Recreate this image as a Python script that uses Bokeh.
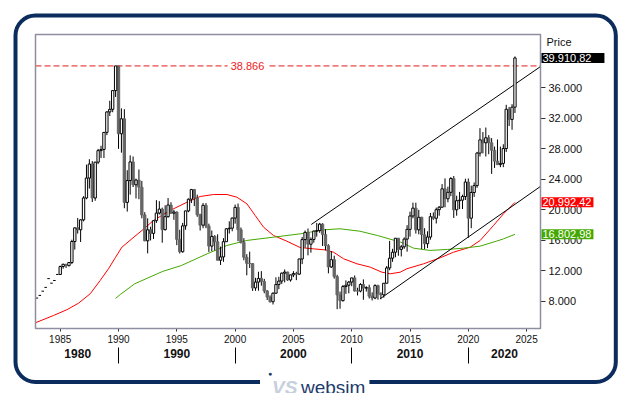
from bokeh.plotting import figure
from bokeh.models import Range1d, LinearAxis, FixedTicker, Label, BoxAnnotation, ColumnDataSource
from bokeh.embed import file_html
from bokeh.resources import INLINE

FONT = "Liberation Sans"

# ---------------- data (Nikkei 225, quarterly) ----------------
early_x = [1983.0, 1983.25, 1983.5, 1983.75, 1984.0, 1984.25, 1984.5, 1984.75]
early_close = [8450, 8800, 9350, 9850, 11000, 10400, 10750, 11540]

first_year = 1985
opens = [11543, 12580, 12880, 12700,  13113, 15860, 17650, 17400,  18701, 21566, 24176, 26011,
         21564, 26260, 27769, 27923,  30159, 32839, 33183, 35637,  38866, 29980, 31940, 20984,
         23849, 26292, 23290, 23916,  22984, 19346, 15951, 17399,  16925, 18591, 19590, 20106,
         17417, 19112, 20643, 19564,  19723, 16140, 14517, 17913,  19868, 21407, 22667, 21556,
         19361, 18003, 20605, 17888,  15259, 16527, 15830, 13406,  13842, 15837, 17530, 17605,
         18934, 20337, 17411, 15747,  13786, 12999, 12969, 9775,   10543, 11025, 10622, 9383,
         8579, 7973, 9083, 10219,     10677, 11715, 11859, 10824,  11489, 11669, 11584, 13574,
         16111, 17060, 15505, 16128,  17226, 17288, 18138, 16786,  15308, 12526, 13481, 11260,
         8860, 8110, 9958, 10133,     10546, 11090, 9383, 9369,    10229, 9755, 9816, 8700,
         8455, 10084, 9007, 8870,     10395, 12398, 13677, 14456,  16291, 14828, 15162, 16174,
         17451, 19207, 20236, 17388,  19034, 16759, 15576, 16450,  19114, 18909, 20033, 20356,
         22765, 21454, 22305, 24120,  20015, 21206, 21276, 21756,  23657, 18917, 22288, 23185,
         27444, 29179, 28792, 29453,  28792, 27821, 26393, 25937,  26095, 28041, 33189, 31858,
         33464]
highs = [12700, 12950, 12900, 13130,  16100, 17700, 18936, 18800,  21800, 25929, 26646, 26400,
         26300, 28000, 28400, 30200,  32900, 34300, 35700, 38866,  38866, 33300, 33200, 25200,
         27146, 27000, 24100, 25300,  23800, 19700, 18900, 17800,  18600, 21281, 21148, 20300,
         20600, 21552, 21000, 20000,  19800, 17400, 18300, 19900,  21500, 22750, 22750, 22000,
         19500, 20900, 20900, 18200,  17300, 16700, 16800, 15200,  16300, 17600, 18500, 19000,
         20700, 20833, 17700, 16300,  14200, 14529, 13000, 11100,  11900, 11979, 10960, 9500,
         8800, 9200, 11161, 11238,    11800, 12195, 11900, 11500,  11975, 11900, 13600, 16445,
         17300, 17563, 16400, 17300,  18300, 18297, 18262, 17489,  15500, 14601, 14000, 11500,
         9300, 10170, 10767, 10700,   11100, 11408, 9800, 10400,   10891, 10000, 10200, 9200,
         10255, 10200, 9200, 10400,   12650, 15942, 14900, 16320,  16320, 15400, 16400, 18000,
         19778, 20953, 20946, 20012,  19100, 17600, 17200, 19600,  19668, 20300, 20500, 23382,
         24129, 23050, 24286, 24448,  21860, 22362, 22000, 24091,  24116, 23178, 23600, 27602,
         30714, 30200, 30795, 29800,  29400, 28300, 29222, 28300,  28600, 33772, 33488, 33853,
         40110]
lows = [11500, 12300, 12400, 12600,  12900, 14800, 16900, 15800,  18500, 21400, 22800, 21036,
        21200, 26000, 26800, 26800,  29800, 32300, 32800, 34800,  28000, 27500, 20221, 19781,
        22000, 23000, 21500, 21400,  18900, 15900, 14309, 16000,  16200, 18300, 19400, 15700,
        17300, 19000, 19500, 18700,  15380, 14295, 14400, 17400,  19700, 20900, 20500, 19100,
        17300, 17600, 17600, 14500,  14600, 14700, 13400, 12787,  13200, 15800, 16900, 17200,
        18200, 15900, 15600, 13400,  11433, 12400, 9382, 9400,    9420, 10074, 9075, 8197,
        7862, 7607, 9000, 9614,      10300, 10500, 10700, 10600,  11200, 10800, 11500, 12900,
        15059, 14045, 14400, 15700,  16500, 17000, 15273, 14700,  11691, 12400, 11000, 6994,
        7054, 8000, 9000, 9076,      10000, 9300, 8796, 9200,     8227, 9300, 8400, 8135,
        8300, 8238, 8300, 8500,      10350, 12100, 13200, 13800,  14000, 13900, 14900, 14529,
        16500, 18900, 16901, 16800,  14866, 14864, 15000, 16100,  18700, 18224, 19240, 20300,
        20347, 21000, 21800, 18949,  19241, 20110, 20110, 21300,  16358, 17600, 21710, 22900,
        27000, 27400, 27000, 27300,  24717, 25500, 25900, 25600,  25600, 27600, 31000, 30500,
        32700]
closes = [12580, 12880, 12700, 13113,  15860, 17650, 17400, 18701,  21566, 24176, 26011, 21564,
          26260, 27769, 27923, 30159,  32839, 33183, 35637, 38866,  29980, 31940, 20984, 23849,
          26292, 23290, 23916, 22984,  19346, 15951, 17399, 16925,  18591, 19590, 20106, 17417,
          19112, 20643, 19564, 19723,  16140, 14517, 17913, 19868,  21407, 22667, 21556, 19361,
          18003, 20605, 17888, 15259,  16527, 15830, 13406, 13842,  15837, 17530, 17605, 18934,
          20337, 17411, 15747, 13786,  12999, 12969, 9775, 10543,   11025, 10622, 9383, 8579,
          7973, 9083, 10219, 10677,    11715, 11859, 10824, 11489,  11669, 11584, 13574, 16111,
          17060, 15505, 16128, 17226,  17288, 18138, 16786, 15308,  12526, 13481, 11260, 8860,
          8110, 9958, 10133, 10546,    11090, 9383, 9369, 10229,    9755, 9816, 8700, 8455,
          10084, 9007, 8870, 10395,    12398, 13677, 14456, 16291,  14828, 15162, 16174, 17451,
          19207, 20236, 17388, 19034,  16759, 15576, 16450, 19114,  18909, 20033, 20356, 22765,
          21454, 22305, 24120, 20015,  21206, 21276, 21756, 23657,  18917, 22288, 23185, 27444,
          29179, 28792, 29453, 28792,  27821, 26393, 25937, 26095,  28041, 33189, 31858, 33464,
          39910.82]

# moving averages
red_x = [1982.88, 1984.43, 1985.57, 1986.57, 1987.57, 1988.43, 1989.14, 1989.72, 1990.29, 1991.15,
         1992.01, 1993.0, 1994.43, 1995.87, 1997.0, 1998.15, 1999.3, 2000.15, 2001.01, 2001.72,
         2002.44, 2003.29, 2004.44, 2005.58, 2006.72, 2007.73, 2008.44, 2009.3, 2010.45, 2011.59,
         2012.59, 2013.3, 2014.16, 2014.73, 2016.16, 2017.59, 2018.73, 2020.16, 2021.02, 2022.16,
         2023.02, 2024.0]
red_y = [5215, 6170, 6920, 7780, 9010, 10760, 12290, 13730, 15120, 16220,
         17310, 18620, 19930, 21010, 21760, 22020, 22020, 21670, 20800, 19270,
         17740, 16650, 15900, 15070, 14900, 14760, 14460, 13600, 12940, 12500,
         11840, 11630, 11840, 12290, 12940, 13730, 14460, 15120, 16000, 17960,
         19500, 20992.42]
green_x = [1989.74, 1990.15, 1991.4, 1993.8, 1995.4, 1997.6, 1999.3, 2001.0, 2003.3, 2005.6,
           2007.6, 2009.0, 2010.7, 2012.2, 2014.2, 2015.3, 2016.7, 2018.2, 2019.6, 2021.0,
           2022.4, 2023.0, 2024.0]
green_y = [8400, 8920, 10330, 11950, 12720, 14250, 15340, 16000, 16430, 16870,
           17390, 17530, 17210, 16650, 15770, 14990, 14690, 14820, 14990, 15250,
           15900, 16200, 16802.98]

# trend channel lines
upper_x = [2006.53, 2026.19]
upper_y = [18090, 38780]
lower_x = [2012.44, 2026.19]
lower_y = [8360, 23080]

peak_level = 38866
peak_text = "38.866"
last_price, last_text = 39910.82, "39.910,82"
red_last, red_text = 20992.42, "20.992,42"
green_last, green_text = 16802.98, "16.802,98"

price_ticks = [8000, 12000, 16000, 20000, 24000, 28000, 32000, 36000]
price_labels = ["8.000", "12.000", "16.000", "20.000", "24.000", "28.000", "32.000", "36.000"]
year_ticks = [1985, 1990, 1995, 2000, 2005, 2010, 2015, 2020, 2025]
decade_bounds = [1990, 2000, 2010, 2020]
decade_names = ["1980", "1990", "2000", "2010", "2020"]
decade_centers = [1986.5, 1995.0, 2005.0, 2015.0, 2023.1]

# ---------------- geometry ----------------
W, H = 622, 393
X0, X1 = 1982.88, 2026.19          # visible date span of the price panel
Y0, Y1 = 4462, 42985               # visible price span of the price panel
FL, FR, FT, FB = 35, 540, 34, 328  # price panel in page pixels
SX = (X1 - X0) / (FR - FL)
SY = (Y1 - Y0) / (FB - FT)


def px_to_x(px):
    return X0 + (px - FL) * SX


def py_to_y(py):
    return Y0 + (FB - py) * SY


p = figure(width=W, height=H, output_backend="svg", toolbar_location=None,
           x_range=Range1d(px_to_x(0), px_to_x(W)), y_range=Range1d(py_to_y(H), py_to_y(0)),
           x_axis_location=None, y_axis_location=None, min_border=0)
p.grid.grid_line_color = None
p.outline_line_color = None
p.background_fill_color = "white"
p.border_fill_color = "white"

# price panel box
p.add_layout(BoxAnnotation(left=X0, right=X1, bottom=Y0, top=Y1, fill_color=None,
                           line_color="#8e8ea2", line_alpha=1.0, line_width=1.5))

# axes (drawn at fixed locations on the panel edges)
yax = LinearAxis(ticker=FixedTicker(ticks=price_ticks), fixed_location=X1,
                 major_label_overrides={t: l for t, l in zip(price_ticks, price_labels)},
                 axis_line_color=None, major_tick_out=5, major_tick_in=0,
                 major_tick_line_color="#333333", minor_tick_line_color=None,
                 major_label_text_font=FONT, major_label_text_font_size="11px",
                 major_label_text_color="#111111", major_label_standoff=3)
p.add_layout(yax, "right")

xax = LinearAxis(ticker=FixedTicker(ticks=year_ticks), fixed_location=Y0,
                 major_label_overrides={t: str(t) for t in year_ticks},
                 axis_line_color=None, major_tick_out=3, major_tick_in=0,
                 major_tick_line_color="#333333", minor_tick_line_color=None,
                 major_label_text_font=FONT, major_label_text_font_size="10px",
                 major_label_text_color="#111111", major_label_standoff=3)
p.add_layout(xax, "below")

dax = LinearAxis(ticker=FixedTicker(ticks=decade_centers, minor_ticks=decade_bounds),
                 fixed_location=py_to_y(347),
                 major_label_overrides={c: n for c, n in zip(decade_centers, decade_names)},
                 axis_line_color=None, major_tick_out=0, major_tick_in=0,
                 major_tick_line_color=None,
                 minor_tick_out=16, minor_tick_in=0, minor_tick_line_color="#000000",
                 minor_tick_line_width=1,
                 major_label_text_font=FONT, major_label_text_font_size="12px",
                 major_label_text_font_style="bold",
                 major_label_text_color="#111111", major_label_standoff=-15)
p.add_layout(dax, "below")

# peak level
p.line([X0, X1], [peak_level, peak_level], line_color="#e41a1a", line_width=1, line_dash="6 3")
p.add_layout(Label(x=px_to_x(247), y=peak_level, text=peak_text, text_align="center",
                   text_baseline="middle", text_font=FONT, text_font_size="11px",
                   text_color="#f02020", background_fill_color="white",
                   padding=dict(left=3, right=3, top=0, bottom=0)))

# moving averages
p.line(red_x, red_y, line_color="#ff0000", line_width=1)
p.line(green_x, green_y, line_color="#44a800", line_width=1)

# trend lines
p.line(upper_x, upper_y, line_color="black", line_width=1)
p.line(lower_x, lower_y, line_color="black", line_width=1)

# candles
xs = [first_year + i * 0.25 for i in range(len(closes))]
src = ColumnDataSource(dict(x=xs, o=opens, h=highs, l=lows, c=closes))
up = dict(x=[], top=[], bottom=[])
dn = dict(x=[], top=[], bottom=[])
for x, o, c in zip(xs, opens, closes):
    d = up if c >= o else dn
    d["x"].append(x)
    d["top"].append(max(o, c))
    d["bottom"].append(min(o, c))
p.segment(x0="x", y0="l", x1="x", y1="h", source=src, line_color="black", line_width=1)
p.vbar(x="x", top="top", bottom="bottom", width=0.2, source=ColumnDataSource(dn),
       fill_color="#666666", line_color="#666666", line_width=1)
p.vbar(x="x", top="top", bottom="bottom", width=0.2, source=ColumnDataSource(up),
       fill_color="white", line_color="black", line_width=1)
p.scatter(early_x, early_close, marker="dash", size=2.5, line_color="black", line_width=1)

# right side labels
p.add_layout(Label(x=px_to_x(546), y=py_to_y(41), text="Price", text_baseline="middle",
                   text_font=FONT, text_font_size="11px", text_color="#111111"))
for val, txt, bg, pr in [(last_price, last_text, "black", 13),
                         (red_last, red_text, "#ff0000", 2),
                         (green_last, green_text, "#44a800", 2)]:
    p.add_layout(Label(x=px_to_x(541), y=val, text=txt, text_baseline="middle",
                       text_font=FONT, text_font_size="11px", text_color="white",
                       background_fill_color=bg,
                       padding=dict(left=1, right=pr, top=1, bottom=1)))

# outer rounded frame
p.add_layout(BoxAnnotation(left=px_to_x(15), right=px_to_x(615.3), top=py_to_y(15),
                           bottom=py_to_y(381.5), fill_color=None, line_color="#0b2c5c",
                           line_alpha=1.0, line_width=4, border_radius=20))

# logo
p.add_layout(Label(x=px_to_x(259.5), y=py_to_y(386.5), text="websim",
                   text_baseline="alphabetic",
                   text_font=FONT, text_font_size="19px",
                   text_color="#1d3b6b", background_fill_color="white",
                   padding=dict(left=41, right=4, top=0, bottom=0)))
p.add_layout(Label(x=px_to_x(271.5), y=py_to_y(386.5), text="VS", text_baseline="alphabetic",
                   text_font=FONT, text_font_size="19px", text_font_style="bold italic",
                   text_color="#c6d0de"))
p.add_layout(Label(x=px_to_x(269.5), y=py_to_y(373), text="\u25cf", text_baseline="middle",
                   text_align="center", text_font=FONT, text_font_size="7px",
                   text_color="#1d3b6b"))

open("out.html", "w").write(file_html(p, INLINE))
